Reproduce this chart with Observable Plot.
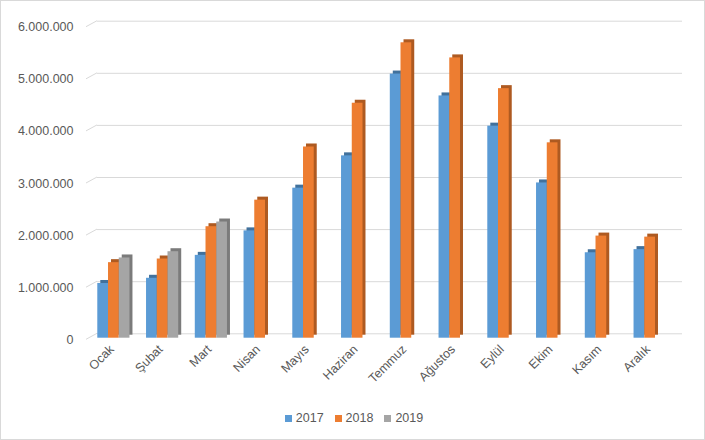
<!DOCTYPE html>
<html><head><meta charset="utf-8">
<script src="https://cdn.jsdelivr.net/npm/d3@7"></script>
<script src="https://cdn.jsdelivr.net/npm/@observablehq/plot@0.6"></script>
<style>
html,body{margin:0;padding:0;background:#fff;}
#chart{box-sizing:border-box;width:705px;height:440px;border:1px solid #d9d9d9;position:relative;overflow:hidden;font-family:"Liberation Sans",Arial,sans-serif;}
#chart svg{display:block;}
#legend{position:absolute;left:3px;right:0;top:409px;display:flex;justify-content:center;gap:11px;font-size:12.5px;line-height:16px;color:#595959;}
#legend .item{display:flex;align-items:center;gap:4px;}
#legend .sw{width:7px;height:7px;display:inline-block;}
</style>
</head><body>
<div id="chart"><div id="legend"></div></div>
<script>
const months = ["Ocak","Şubat","Mart","Nisan","Mayıs","Haziran","Temmuz","Ağustos","Eylül","Ekim","Kasım","Aralık"];
const years = ["2017","2018","2019"];
const v2017 = [1050000,1150000,1590000,2060000,2880000,3500000,5070000,4650000,4070000,2980000,1640000,1700000];
const v2018 = [1450000,1520000,2140000,2650000,3670000,4510000,5670000,5380000,4790000,3750000,1960000,1940000];
const v2019 = [1540000,1660000,2230000];
const yTicks = [0,1000000,2000000,3000000,4000000,5000000,6000000];
const frontColors = ["#5B9BD5","#ED7D31","#A5A5A5"];
const sideColors = ["#41719C","#AE5A21","#7B7B7B"];

const series = [v2017, v2018, v2019];
const rows = series.flatMap((vals, i) => vals.map((v, j) => ({month: months[j], year: years[i], value: v})));
const trFormat = d3.formatLocale({decimal: ",", thousands: ".", grouping: [3], currency: ["₺", ""]}).format(",d");

const W = 703, H = 400, mL = 88, mR = 30, mT = 24.1, mB = 63.3;
const pInner = 0.78, pOuter = 0.39;
const step = (W - mL - mR) / 12;
const bw = step * (1 - pInner);
const offsets = [-bw, 0, bw];
const depth = 3;

const plot = Plot.plot({
  width: W, height: H,
  marginLeft: mL, marginRight: mR, marginTop: mT, marginBottom: mB,
  style: {fontFamily: '"Liberation Sans", Arial, sans-serif', fontSize: "12.5px", color: "#595959", background: "transparent"},
  x: {domain: months, paddingInner: pInner, paddingOuter: pOuter, round: false, label: null},
  y: {domain: [0, 6000000], label: null},
  marks: [
    Plot.ruleY(yTicks, {stroke: "#d9d9d9", dx: 8, dy: -4.4}),
    ...years.map((yr, i) => Plot.barY(rows.filter(d => d.year === yr), {x: "month", y: "value", fill: sideColors[i], dx: offsets[i] + depth, dy: -depth, inset: 0})),
    ...years.map((yr, i) => Plot.barY(rows.filter(d => d.year === yr), {x: "month", y: "value", fill: frontColors[i], dx: offsets[i], inset: 0})),
    Plot.axisY(yTicks, {tickSize: 0, tickPadding: 16, dy: 1.6, tickFormat: trFormat, fill: "#595959", fontSize: 12.5, label: null}),
    Plot.axisX({tickSize: 0, tickRotate: -45, tickPadding: 9, dx: -2, fill: "#595959", fontSize: 12.5, label: null})
  ]
});

// left-edge depth connectors of the gridlines
const ys = plot.scale("y");
const g = d3.select(plot).insert("g", ":first-child").attr("stroke", "#d9d9d9").attr("fill", "none");
yTicks.forEach(t => {
  const yy = ys.apply(t);
  g.append("line").attr("x1", mL - 3).attr("y1", yy + 1.6).attr("x2", mL + 8).attr("y2", yy - 4.4);
});

const chart = document.getElementById("chart");
chart.insertBefore(plot, chart.firstChild);

const legend = d3.select("#legend");
years.forEach((yr, i) => {
  const it = legend.append("div").attr("class", "item");
  it.append("span").attr("class", "sw").style("background", frontColors[i]);
  it.append("span").text(yr);
});
</script>
</body></html>
